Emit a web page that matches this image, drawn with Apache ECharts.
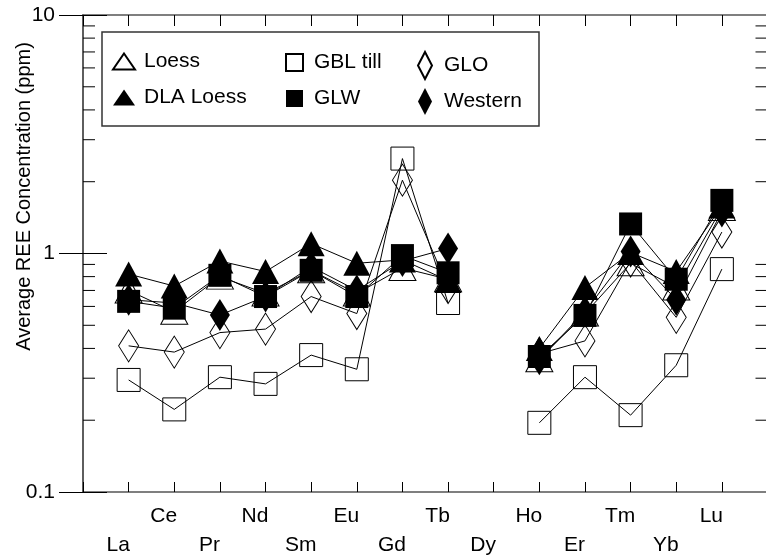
<!DOCTYPE html>
<html>
<head>
<meta charset="utf-8">
<script src="https://cdn.jsdelivr.net/npm/echarts@6/dist/echarts.min.js"></script>
<style>
  html, body { margin: 0; padding: 0; background: #fff; }
  #chart { width: 766px; height: 555px; }
</style>
</head>
<body>
<div id="chart"></div>
<script>
// REE elements along the x axis (Dy has no data)
const elements = ['La', 'Ce', 'Pr', 'Nd', 'Sm', 'Eu', 'Gd', 'Tb', 'Dy', 'Ho', 'Er', 'Tm', 'Yb', 'Lu'];

// average concentrations (ppm)
const loess    = [0.70, 0.57, 0.80, 0.68, 0.85, 0.68, 0.87, 0.78, null, 0.36, 0.56, 0.91, 0.72, 1.55];
const dlaLoess = [0.82, 0.73, 0.93, 0.84, 1.10, 0.91, 0.94, 0.77, null, 0.40, 0.72, 1.01, 0.84, 1.58];
const gblTill  = [0.295, 0.222, 0.303, 0.284, 0.375, 0.327, 2.50, 0.62, null, 0.195, 0.303, 0.210, 0.340, 0.86];
const glw      = [0.63, 0.59, 0.81, 0.66, 0.85, 0.66, 0.98, 0.83, null, 0.37, 0.55, 1.33, 0.78, 1.67];
const glo      = [0.41, 0.386, 0.466, 0.482, 0.66, 0.56, 2.03, 0.72, null, 0.38, 0.43, 0.93, 0.54, 1.23];
const western  = [0.64, 0.62, 0.552, 0.66, 0.88, 0.70, 0.93, 1.05, null, 0.36, 0.57, 1.02, 0.64, 1.50];

// log axis: labelled decades and minor tick values
const yTickLabels = ['0.1', '1', '10'];
const minorTicks = [0.2, 0.3, 0.4, 0.5, 0.6, 0.7, 0.8, 0.9, 2, 3, 4, 5, 6, 7, 8, 9];

const xMin = 0;
const xMax = elements.length + 1;
const font = "'Liberation Sans', Arial, sans-serif";
const fontSize = 21;

// turn a value array into [position, value] pairs, gaps as '-'
function toPoints(values) {
    return values.map((v, i) => [i + 1, v === null ? '-' : v]);
}

function lineSeries(name, values, symbol, size, filled) {
    return {
        name: name,
        type: 'line',
        data: toPoints(values),
        symbol: symbol,
        symbolSize: size,
        showSymbol: true,
        connectNulls: false,
        silent: true,
        emphasis: {disabled: true},
        lineStyle: {color: '#000', width: 1},
        itemStyle: filled
            ? {color: '#000', borderColor: '#000', borderWidth: 0}
            : {color: 'rgba(255,255,255,0)', borderColor: '#000', borderWidth: 1}
    };
}

const axisLineStyle = {color: '#555', width: 1.5};

let myChart = echarts.init(document.getElementById('chart'), null, {renderer: 'canvas'});

let option = {
    animation: false,
    textStyle: {fontFamily: font, color: '#000'},
    grid: {left: 83, right: -1.5, top: 15, bottom: 63, outerBoundsMode: 'none', containLabel: false},
    graphic: [
        {
            // legend frame
            type: 'rect',
            z: 3,
            shape: {x: 102, y: 32, width: 437, height: 94},
            style: {fill: '#fff', stroke: '#333', lineWidth: 1.5}
        }
    ],
    legend: [
        {
            orient: 'vertical', left: 112, top: 51, padding: 0,
            itemWidth: 22, itemHeight: 16, itemGap: 15,
            selectedMode: false,
            textStyle: {fontFamily: font, fontSize: fontSize, lineHeight: 20, color: '#000', padding: [0, 0, 0, 4]},
            data: [{name: 'Loess', icon: 'triangle'}, {name: 'DLA Loess', icon: 'triangle'}]
        },
        {
            orient: 'vertical', left: 285, top: 52, padding: 0,
            itemWidth: 17, itemHeight: 17, itemGap: 15,
            selectedMode: false,
            textStyle: {fontFamily: font, fontSize: fontSize, lineHeight: 20, color: '#000', padding: [0, 0, 0, 6]},
            data: [{name: 'GBL till', icon: 'rect'}, {name: 'GLW', icon: 'rect'}]
        },
        {
            orient: 'vertical', left: 417, top: 51, padding: 0,
            itemWidth: 14, itemHeight: 27, itemGap: 8,
            selectedMode: false,
            textStyle: {fontFamily: font, fontSize: fontSize, lineHeight: 20, color: '#000', padding: [0, 0, 0, 7]},
            data: [{name: 'GLO', icon: 'diamond'}, {name: 'Western', icon: 'diamond'}]
        }
    ],
    xAxis: [
        {
            type: 'value',
            position: 'bottom',
            min: xMin,
            max: xMax,
            interval: 1,
            splitLine: {show: false},
            axisLine: {show: true, lineStyle: axisLineStyle},
            axisTick: {show: true, inside: true, length: 10, lineStyle: {color: '#000', width: 1}},
            axisLabel: {
                fontFamily: font,
                fontSize: fontSize,
                lineHeight: 29,
                margin: 10,
                color: '#000',
                padding: [0, 21, 0, 0],
                showMinLabel: true,
                showMaxLabel: true,
                formatter: function (val) {
                    let i = Math.round(val) - 1;
                    if (i < 0 || i >= elements.length) return '';
                    // alternate the labels over two rows
                    return i % 2 === 0 ? '\n' + elements[i] : elements[i];
                }
            }
        },
        {
            type: 'value',
            position: 'top',
            min: xMin,
            max: xMax,
            interval: 1,
            splitLine: {show: false},
            axisLine: {show: true, lineStyle: axisLineStyle},
            axisTick: {show: true, inside: true, length: 11, lineStyle: {color: '#000', width: 1}},
            axisLabel: {show: false}
        }
    ],
    yAxis: [
        {
            type: 'log',
            logBase: 10,
            min: 0.1,
            max: 10,
            position: 'left',
            name: 'Average REE Concentration (ppm)',
            nameLocation: 'middle',
            nameGap: 49,
            nameMoveOverlap: false,
            nameTextStyle: {fontFamily: font, fontSize: 20, color: '#000', padding: [0, 0, 0, 114]},
            splitLine: {show: false},
            axisLine: {show: true, lineStyle: axisLineStyle},
            axisTick: {show: true, inside: true, length: 24, lineStyle: {color: '#000', width: 1}},
            axisLabel: {
                fontFamily: font,
                fontSize: fontSize,
                margin: 28,
                color: '#000',
                formatter: function (val) {
                    let k = Math.round(Math.log10(val)) + 1;
                    return yTickLabels[k] || '';
                }
            }
        },
        {
            type: 'log',
            logBase: 10,
            min: 0.1,
            max: 10,
            position: 'right',
            splitLine: {show: false},
            axisLine: {show: true, lineStyle: axisLineStyle},
            axisTick: {show: true, inside: true, length: 24, lineStyle: {color: '#000', width: 1}},
            axisLabel: {show: false}
        }
    ],
    series: [
        {
            // minor ticks on the left and right log axes
            type: 'custom',
            silent: true,
            z: 1,
            data: minorTicks.map(v => [xMin, v]),
            encode: {x: 0, y: 1},
            renderItem: function (params, api) {
                let v = api.value(1);
                let l = api.coord([xMin, v]);
                let r = api.coord([xMax, v]);
                return {
                    type: 'group',
                    children: [
                        {type: 'line', shape: {x1: l[0], y1: l[1], x2: l[0] + 12, y2: l[1]}, style: {stroke: '#000', lineWidth: 1}},
                        {type: 'line', shape: {x1: r[0], y1: r[1], x2: r[0] - 12, y2: r[1]}, style: {stroke: '#000', lineWidth: 1}}
                    ]
                };
            }
        },
        lineSeries('GBL till', gblTill, 'rect', 23, false),
        lineSeries('GLO', glo, 'diamond', [20, 32], false),
        lineSeries('Loess', loess, 'triangle', [27, 25], false),
        lineSeries('DLA Loess', dlaLoess, 'triangle', [27, 25], true),
        lineSeries('Western', western, 'diamond', [20, 32], true),
        lineSeries('GLW', glw, 'rect', 23, true)
    ]
};

myChart.setOption(option);
</script>
</body>
</html>
